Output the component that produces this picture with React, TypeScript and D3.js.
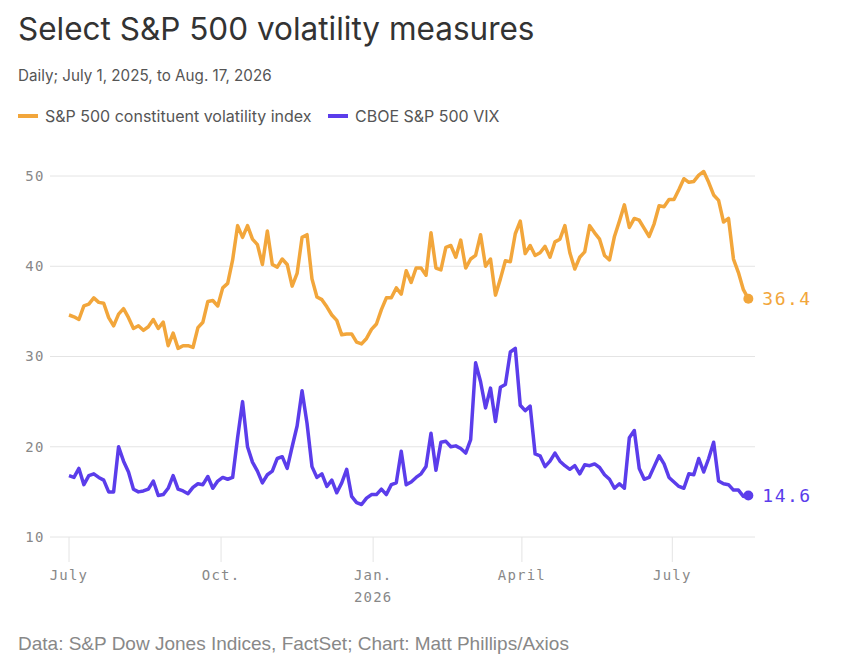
// @ts-nocheck
import React from "react";
import * as d3 from "d3";

// every 3rd calendar day, July 1, 2025 .. Aug. 16, 2026
const startDate = new Date(2025, 6, 1);
const endDate = new Date(2026, 7, 17);
const dates = d3.timeDay.range(startDate, new Date(2026, 7, 18), 3);

const constituentVol = [
  34.6, 34.4, 34.1, 35.6, 35.8, 36.5, 36.0, 35.9, 34.3, 33.4,
  34.7, 35.3, 34.3, 33.1, 33.4, 32.9, 33.3, 34.1, 33.1, 33.8,
  31.2, 32.6, 30.9, 31.2, 31.2, 31.0, 33.2, 33.8, 36.1, 36.2,
  35.6, 37.6, 38.1, 40.7, 44.5, 43.2, 44.5, 43.0, 42.4, 40.2,
  43.9, 40.2, 39.9, 40.8, 40.2, 37.8, 39.2, 43.2, 43.5, 38.6,
  36.6, 36.3, 35.5, 34.6, 34.0, 32.4, 32.5, 32.5, 31.6, 31.4,
  32.0, 33.0, 33.6, 35.2, 36.5, 36.5, 37.6, 36.9, 39.5, 38.2,
  39.8, 39.8, 39.0, 43.7, 39.8, 39.6, 42.1, 42.3, 41.0, 42.9,
  39.8, 40.8, 41.2, 43.5, 40.0, 40.8, 36.8, 38.6, 40.6, 40.5,
  43.6, 45.0, 41.4, 42.3, 41.2, 41.5, 42.2, 41.0, 42.7, 43.0,
  44.5, 41.5, 39.7, 41.0, 41.6, 44.5, 43.7, 43.0, 41.2, 40.7,
  43.3, 45.0, 46.8, 44.3, 45.3, 45.1, 44.2, 43.3, 44.7, 46.7,
  46.6, 47.4, 47.4, 48.5, 49.7, 49.3, 49.4, 50.1, 50.5, 49.3,
  47.9, 47.3, 44.9, 45.3, 40.8, 39.3, 37.4, 36.4,
];

const vix = [
  16.8, 16.6, 17.6, 15.8, 16.8, 17.0, 16.6, 16.3, 15.0, 15.0,
  20.0, 18.4, 17.2, 15.3, 15.0, 15.1, 15.3, 16.2, 14.6, 14.7,
  15.4, 16.8, 15.3, 15.1, 14.8, 15.5, 15.9, 15.8, 16.7, 15.4,
  16.2, 16.6, 16.4, 16.6, 21.0, 25.0, 20.0, 18.3, 17.3, 16.0,
  16.9, 17.3, 18.7, 18.9, 17.6, 20.0, 22.3, 26.2, 22.6, 17.8,
  16.6, 17.0, 15.6, 16.3, 14.9, 16.0, 17.5, 14.5, 13.8, 13.6,
  14.3, 14.7, 14.7, 15.3, 14.7, 15.8, 16.0, 19.5, 15.8, 16.1,
  16.6, 17.0, 17.8, 21.5, 17.4, 20.5, 20.6, 20.0, 20.1, 19.8,
  19.3, 20.8, 29.3, 27.2, 24.3, 26.5, 22.8, 26.6, 26.9, 30.5,
  30.9, 24.6, 24.0, 24.5, 19.2, 19.0, 17.8, 18.4, 19.3, 18.4,
  17.9, 17.5, 17.9, 17.0, 18.0, 17.9, 18.1, 17.7, 16.9, 16.4,
  15.4, 15.9, 15.4, 21.0, 21.8, 17.6, 16.4, 16.6, 17.8, 19.0,
  18.1, 16.6, 16.1, 15.6, 15.4, 17.0, 16.9, 18.7, 17.2, 18.7,
  20.5, 16.2, 15.9, 15.8, 15.2, 15.2, 14.5, 14.6,
];

const yTicks = [10, 20, 30, 40, 50];
const xTicks = [
  { date: new Date(2025, 6, 1), label: "July" },
  { date: new Date(2025, 9, 1), label: "Oct." },
  { date: new Date(2026, 0, 1), label: "Jan.", year: "2026" },
  { date: new Date(2026, 3, 1), label: "April" },
  { date: new Date(2026, 6, 1), label: "July" },
];

const series = [
  { name: "S&P 500 constituent volatility index", values: constituentVol, color: "#F2A63B" },
  { name: "CBOE S&P 500 VIX", values: vix, color: "#5B3DEB" },
];

const W = 862;
const H = 661;
const sans = "Inter, 'Noto Sans', sans-serif";
const mono = "'DejaVu Sans Mono', monospace";

const VolChart = () => {
  const svgRef = React.useRef(null);

  React.useEffect(() => {
    const xScale = d3.scaleTime().domain([startDate, endDate]).range([69, 750]);
    const yScale = d3.scaleLinear().domain([10, 50]).range([537, 176]);

    const svgEl = d3.select(svgRef.current);
    svgEl.selectAll("*").remove();
    const svg = svgEl.append("g");

    svg.append("rect").attr("width", W).attr("height", H).attr("fill", "#fff");

    // header
    svg.append("text")
      .attr("x", 18).attr("y", 40)
      .attr("font-family", sans).attr("font-size", 31.5)
      .attr("fill", "#333")
      .text("Select S&P 500 volatility measures");
    svg.append("text")
      .attr("x", 18).attr("y", 81)
      .attr("font-family", sans).attr("font-size", 15.2)
      .attr("fill", "#555")
      .text("Daily; July 1, 2025, to Aug. 17, 2026");

    // legend
    const legendX = [18, 328];
    series.forEach((s, i) => {
      svg.append("rect")
        .attr("x", legendX[i]).attr("y", 114)
        .attr("width", 20).attr("height", 4)
        .attr("fill", s.color);
      svg.append("text")
        .attr("x", legendX[i] + 27).attr("y", 121.5)
        .attr("font-family", sans).attr("font-size", 16)
        .attr("fill", "#555")
        .text(s.name);
    });

    // y grid + labels
    const yg = svg.append("g");
    yg.selectAll("line").data(yTicks).enter().append("line")
      .attr("x1", 50).attr("x2", 755)
      .attr("y1", (d) => yScale(d)).attr("y2", (d) => yScale(d))
      .attr("stroke", "#e4e4e4").attr("stroke-width", 1);
    yg.selectAll("text").data(yTicks).enter().append("text")
      .attr("x", 45).attr("y", (d) => yScale(d))
      .attr("dy", "0.35em")
      .attr("text-anchor", "end")
      .attr("font-family", mono).attr("font-size", 14)
      .attr("letter-spacing", 1.5)
      .attr("fill", "#888")
      .text((d) => d);

    // x ticks + labels
    const xg = svg.append("g");
    xg.selectAll("line").data(xTicks).enter().append("line")
      .attr("x1", (d) => xScale(d.date)).attr("x2", (d) => xScale(d.date))
      .attr("y1", yScale(10)).attr("y2", 562)
      .attr("stroke", "#e4e4e4").attr("stroke-width", 1);
    xg.selectAll("text.m").data(xTicks).enter().append("text")
      .attr("class", "m")
      .attr("x", (d) => xScale(d.date)).attr("y", 580)
      .attr("text-anchor", "middle")
      .attr("font-family", mono).attr("font-size", 14)
      .attr("letter-spacing", 1.2)
      .attr("fill", "#888")
      .text((d) => d.label);
    xg.selectAll("text.y").data(xTicks.filter((d) => d.year)).enter().append("text")
      .attr("class", "y")
      .attr("x", (d) => xScale(d.date)).attr("y", 602)
      .attr("text-anchor", "middle")
      .attr("font-family", mono).attr("font-size", 14)
      .attr("letter-spacing", 1.2)
      .attr("fill", "#888")
      .text((d) => d.year);

    // lines
    const line = d3.line()
      .x((d, i) => xScale(dates[i]))
      .y((d) => yScale(d))
      .curve(d3.curveLinear);
    series.forEach((s) => {
      svg.append("path")
        .attr("d", line(s.values))
        .attr("fill", "none")
        .attr("stroke", s.color)
        .attr("stroke-width", 3.5)
        .attr("stroke-linejoin", "round");
      const n = s.values.length - 1;
      const lx = xScale(dates[n]);
      const ly = yScale(s.values[n]);
      svg.append("circle").attr("cx", lx).attr("cy", ly).attr("r", 5).attr("fill", s.color);
      svg.append("text")
        .attr("x", lx + 14).attr("y", ly)
        .attr("dy", "0.35em")
        .attr("font-family", mono).attr("font-size", 18)
        .attr("letter-spacing", 1.5)
        .attr("fill", s.color)
        .text(s.values[n].toFixed(1));
    });

    // source
    svg.append("text")
      .attr("x", 18).attr("y", 650)
      .attr("font-family", "'Liberation Sans', Arial, sans-serif").attr("font-size", 19)
      .attr("fill", "#888")
      .text("Data: S&P Dow Jones Indices, FactSet; Chart: Matt Phillips/Axios");
  }, []);

  return <svg ref={svgRef} width={W} height={H} style={{ position: "absolute", left: 0, top: 0 }} />;
};

export default function App() {
  return <VolChart />;
}
